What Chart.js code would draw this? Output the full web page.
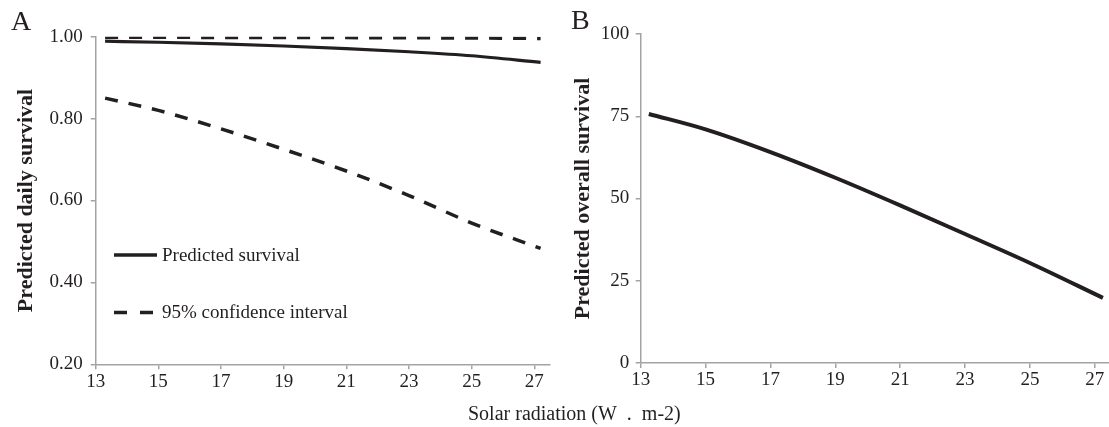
<!DOCTYPE html>
<html><head><meta charset="utf-8">
<script src="https://cdn.jsdelivr.net/npm/chart.js@4"></script>
<style>
html,body{margin:0;padding:0;width:1109px;height:427px;overflow:hidden;background:#fff;}
.box{position:absolute;top:0;height:427px;}
.lbl{position:absolute;font-family:"Liberation Serif","Times New Roman",serif;color:#231f20;white-space:pre;line-height:1;}
</style></head><body>
<div class="box" style="left:0;width:560px"><canvas id="cA"></canvas></div>
<div class="box" style="left:560px;width:551px"><canvas id="cB"></canvas></div>
<div class="lbl" style="left:11px;top:6.5px;font-size:28px">A</div>
<div class="lbl" style="left:571px;top:5.5px;font-size:28px">B</div>
<div class="lbl" style="left:468px;top:403px;font-size:20px">Solar radiation (W&#8194;.&#8194;m-2)</div>
<script>
// ---- data ----
const xTicks = [13, 15, 17, 19, 21, 23, 25, 27];
const yTicksA = [0.2, 0.4, 0.6, 0.8, 1.0];
const yTicksB = [0, 25, 50, 75, 100];
const xA = [13.3, 15, 17, 19, 21, 23, 25, 27.2];
const predictedDaily = [0.989, 0.9864, 0.9824, 0.9773, 0.9710, 0.9632, 0.9535, 0.9373];
const upperCI = [0.9985, 0.9984, 0.9983, 0.9981, 0.9978, 0.9974, 0.9968, 0.9958];
const lowerCI = [0.850, 0.820, 0.775, 0.725, 0.672, 0.612, 0.545, 0.483];
const xB = [13.25, 15, 17, 19, 21, 23, 25, 27.25];
const predictedOverall = [75.7, 71.0, 64.1, 56.3, 47.9, 39.2, 30.4, 19.8];
const legendLabels = ['Predicted survival', '95% confidence interval'];
const yTitleA = 'Predicted daily survival';
const yTitleB = 'Predicted overall survival';

// ---- styles ----
const INK = '#231f20';
const GREY = '#a3a3a3';
const DASH = [13, 11];
Chart.defaults.font.family = '"Liberation Serif","Times New Roman",serif';
Chart.defaults.color = INK;

const pts = (xs, ys) => xs.map((x, i) => ({x, y: ys[i]}));

function xAxis(h) {
  return {
    type: 'linear', min: 13, max: 27.5,
    afterBuildTicks: s => { s.ticks = xTicks.map(v => ({value: v})); },
    afterFit: s => { s.height = h; },
    grid: {drawOnChartArea: false, drawTicks: true, tickLength: 5, color: GREY, lineWidth: 1.5},
    border: {display: true, color: GREY, width: 1.5},
    ticks: {color: INK, font: {size: 19}, padding: 1, maxRotation: 0, autoSkip: false, callback: v => String(v)}
  };
}
function yAxis(min, max, tickVals, w, fmt, title, tpad, lpad) {
  return {
    type: 'linear', min, max,
    afterBuildTicks: s => { s.ticks = tickVals.map(v => ({value: v})); },
    afterFit: s => { s.width = w; },
    grid: {drawOnChartArea: false, drawTicks: true, tickLength: 5, color: GREY, lineWidth: 1.5},
    border: {display: true, color: GREY, width: 1.5},
    ticks: {color: INK, font: {size: 19}, padding: lpad, autoSkip: false, callback: fmt},
    title: {display: true, text: title, color: INK, font: {size: 22, weight: 'bold'}, padding: {top: tpad, bottom: 0}}
  };
}

const legendPlugin = {
  id: 'inLegend',
  afterDraw(chart) {
    const ctx = chart.ctx;
    const rows = [{label: legendLabels[0], dash: false, y: 255}, {label: legendLabels[1], dash: true, y: 312.5}];
    ctx.save();
    rows.forEach(r => {
      ctx.beginPath();
      ctx.setLineDash(r.dash ? [13, 13] : []);
      ctx.lineWidth = 3.5;
      ctx.strokeStyle = INK;
      ctx.moveTo(114, r.y);
      ctx.lineTo(r.dash ? 153 : 157, r.y);
      ctx.stroke();
      ctx.setLineDash([]);
      ctx.fillStyle = INK;
      ctx.font = '19px "Liberation Serif","Times New Roman",serif';
      ctx.textBaseline = 'middle';
      ctx.textAlign = 'left';
      ctx.fillText(r.label, 162, r.y + 1);
    });
    ctx.restore();
  }
};

const common = {
  responsive: true, maintainAspectRatio: false, animation: false,
  plugins: {legend: {display: false}, tooltip: {enabled: false}},
  elements: {point: {radius: 0}, line: {cubicInterpolationMode: 'monotone', borderCapStyle: 'butt'}}
};

new Chart(document.getElementById('cA'), {
  type: 'line',
  data: {datasets: [
    {label: legendLabels[0], data: pts(xA, predictedDaily), borderColor: INK, borderWidth: 3.2, fill: false},
    {label: legendLabels[1], data: pts(xA, upperCI), borderColor: INK, borderWidth: 3.5, borderDash: DASH, fill: false},
    {label: legendLabels[1], data: pts(xA, lowerCI), borderColor: INK, borderWidth: 3.5, borderDash: DASH, fill: false}
  ]},
  options: Object.assign({}, common, {
    layout: {padding: {left: 0, top: 36.7, right: 10, bottom: 0}},
    scales: {
      x: xAxis(62.7),
      y: yAxis(0.2, 1.0, yTicksA, 95.7, v => v.toFixed(2), yTitleA, 13.5, 8)
    }
  }),
  plugins: [legendPlugin]
});

new Chart(document.getElementById('cB'), {
  type: 'line',
  data: {datasets: [
    {label: legendLabels[0], data: pts(xB, predictedOverall), borderColor: INK, borderWidth: 4, fill: false}
  ]},
  options: Object.assign({}, common, {
    layout: {padding: {left: 0, top: 34, right: 0, bottom: 0}},
    scales: {
      x: xAxis(64),
      y: yAxis(0, 100, yTicksB, 80.7, v => String(v), yTitleB, 10.3, 6.5)
    }
  })
});
</script>
</body></html>
